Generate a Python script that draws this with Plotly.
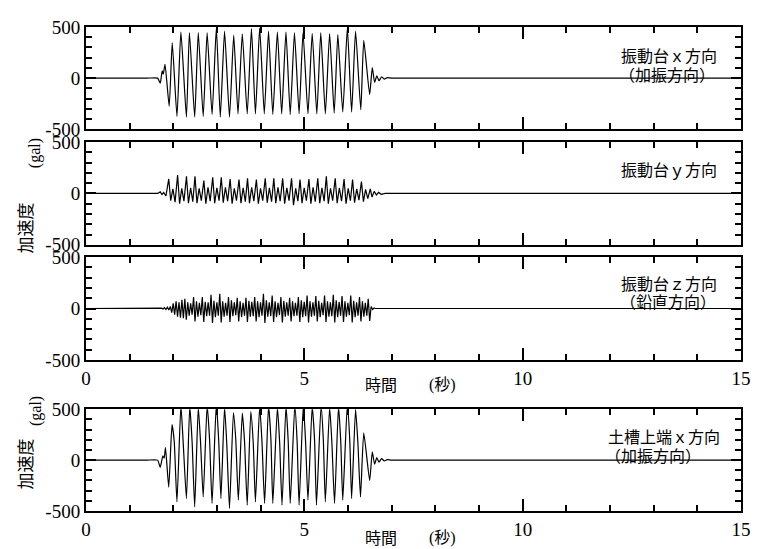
import plotly.graph_objects as go

# ---------------- data ----------------
# Panel 1: shake table, x direction (excitation direction)
t_table_x = [0, 0.5, 1.0, 1.4, 1.64, 1.70, 1.745, 1.77, 1.81, 1.905, 1.975, 2.083, 2.173, 2.300, 2.368,
             2.489, 2.571, 2.684, 2.774, 2.887, 2.985, 3.075, 3.173, 3.286, 3.383, 3.481,
             3.579, 3.692, 3.789, 3.880, 3.977, 4.083, 4.180, 4.278, 4.383, 4.481, 4.579,
             4.677, 4.774, 4.880, 4.970, 5.083, 5.180, 5.286, 5.376, 5.481, 5.579, 5.684,
             5.767, 5.880, 5.985, 6.083, 6.173, 6.293, 6.361, 6.496, 6.556, 6.610, 6.660,
             6.710, 6.770, 6.830, 6.900, 7.000, 7.5, 9.0, 11.0, 13.0, 15.0]
a_table_x = [0, 0, 0, 0, 0, -50, 70, 40, 135, -275, 345, -375, 452, -381, 446, -381, 446, -375, 446,
             -355, 491, -381, 459, -381, 420, -349, 433, -349, 485, -349, 491, -349, 459,
             -355, 452, -349, 452, -355, 446, -349, 446, -349, 439, -349, 446, -349, 436,
             -342, 426, -332, 491, -332, 459, -310, 369, -162, 103, -42, 23, -26, 13, -10,
             5, 0, 0, 0, 0, 0, 0]

# Panel 2: shake table, y direction
t_table_y = [0, 1.64, 1.70, 1.74, 1.78, 1.83,
             1.895, 1.94, 1.99, 2.04,
             2.098, 2.143, 2.193, 2.243,
             2.301, 2.346, 2.396, 2.446,
             2.496, 2.541, 2.591, 2.641,
             2.699, 2.744, 2.794, 2.844,
             2.902, 2.947, 2.997, 3.047,
             3.098, 3.143, 3.193, 3.243,
             3.301, 3.346, 3.396, 3.446,
             3.504, 3.549, 3.599, 3.649,
             3.699, 3.744, 3.794, 3.844,
             3.902, 3.947, 3.997, 4.047,
             4.105, 4.150, 4.200, 4.250,
             4.301, 4.346, 4.396, 4.446,
             4.504, 4.549, 4.599, 4.649,
             4.707, 4.752, 4.802, 4.852,
             4.902, 4.947, 4.997, 5.047,
             5.105, 5.150, 5.200, 5.250,
             5.308, 5.353, 5.403, 5.453,
             5.504, 5.549, 5.599, 5.649,
             5.707, 5.752, 5.802, 5.852,
             5.910, 5.955, 6.005, 6.055,
             6.105, 6.150, 6.200, 6.250,
             6.308, 6.353, 6.403, 6.453,
             6.511, 6.55, 6.60, 6.65, 6.70, 6.76, 6.85, 15.0]
a_table_y = [0, 0, 15, -10, 10, -25,
             141, -70, 45, -85,
             179, -100, 50, -75,
             166, -95, 55, -80,
             166, -95, 50, -70,
             125, -100, 60, -75,
             157, -95, 55, -70,
             157, -90, 60, -75,
             141, -100, 50, -70,
             135, -95, 55, -80,
             147, -95, 60, -75,
             135, -100, 50, -70,
             147, -90, 55, -80,
             147, -95, 60, -75,
             147, -100, 55, -70,
             147, -115, 50, -75,
             135, -95, 55, -70,
             141, -100, 60, -80,
             147, -95, 55, -75,
             166, -100, 50, -70,
             147, -95, 55, -75,
             141, -100, 50, -70,
             135, -90, 45, -65,
             115, -80, 40, -50,
             45, -35, 20, -15, 10, -8, 0, 0]

# Panel 3: shake table, z direction (vertical) - sampled every 1/30 s from 1.73 s
z_start = 1.73
z_step = 1.0 / 30.0
a_table_z = [3, -5, 8, -10, 12, -15, 20, -40, 50, -60, 70, -80, 60, -90, 85, -95,
             95, -110, 60, -70, 50, -60,
             111, -125, 70, -80, 55, -65,
             111, -130, 65, -75, 60, -70,
             134, -140, 75, -85, 60, -70,
             143, -135, 70, -80, 55, -70,
             111, -130, 80, -75, 60, -65,
             105, -125, 70, -85, 55, -70,
             105, -130, 75, -80, 65, -75,
             111, -125, 70, -85, 60, -70,
             143, -140, 80, -80, 60, -75,
             127, -130, 70, -85, 55, -65,
             111, -135, 75, -80, 60, -70,
             105, -125, 70, -75, 55, -70,
             111, -130, 80, -85, 65, -75,
             127, -135, 70, -80, 60, -70,
             121, -125, 75, -85, 55, -65,
             127, -130, 70, -80, 60, -75,
             134, -135, 80, -85, 65, -70,
             121, -130, 70, -80, 55, -65,
             127, -135, 75, -85, 60, -70,
             111, -125, 70, -80, 55, -70,
             95, -120, 20, -10, 5, 0]

# Panel 4: top of soil container, x direction
t_soil_x = [0, 0.5, 1.0, 1.4, 1.64, 1.70, 1.76, 1.79, 1.82, 1.895, 1.97, 2.02,
            2.083, 2.173, 2.226,
            2.300, 2.376, 2.430,
            2.489, 2.571, 2.625,
            2.684, 2.774, 2.830,
            2.887, 2.985, 3.040,
            3.090, 3.173, 3.225,
            3.286, 3.376, 3.430,
            3.489, 3.579, 3.630,
            3.692, 3.774, 3.830,
            3.880, 3.977, 4.030,
            4.090, 4.180, 4.235,
            4.278, 4.383, 4.435,
            4.489, 4.579, 4.630,
            4.677, 4.782, 4.835,
            4.880, 4.977, 5.030,
            5.083, 5.180, 5.235,
            5.278, 5.383, 5.435,
            5.481, 5.579, 5.630,
            5.692, 5.782, 5.835,
            5.880, 5.985, 6.040,
            6.083, 6.173, 6.225,
            6.286, 6.361, 6.496, 6.556, 6.61, 6.66, 6.71, 6.77, 6.83, 6.90, 7.0,
            7.5, 9.0, 11.0, 13.0, 15.0]
a_soil_x = [0, 0, 0, 0, 0, -71, 42, 20, 123, -265, 349, 187,
            -410, 540, 170,
            -378, 530, 180,
            -459, 520, 160,
            -362, 540, 200,
            -426, 560, 180,
            -378, 520, 150,
            -475, 468, 200,
            -394, 462, 190,
            -442, 478, 170,
            -410, 530, 180,
            -426, 540, 200,
            -426, 520, 170,
            -442, 530, 190,
            -426, 540, 180,
            -442, 550, 170,
            -394, 530, 190,
            -442, 540, 200,
            -410, 520, 180,
            -426, 530, 170,
            -394, 550, 200,
            -378, 500, 180,
            -362, 268, -200, 81, -40, 25, -20, 15, -8, 5, 0,
            0, 0, 0, 0, 0]

y_tick_vals = [-500, 0, 500]
y_tick_text = ["-500", "0", "500"]
x_tick_vals = [0, 5, 10, 15]

panel_labels = [["振動台ｘ方向", "（加振方向）"],
                ["振動台ｙ方向"],
                ["振動台ｚ方向", "（鉛直方向）"],
                ["土槽上端ｘ方向", "（加振方向）"]]

# ---------------- layout helpers (pixel geometry of the page) ----------------
PAGE_W, PAGE_H = 760, 549
BODY = 8                      # default body margin of the html page
W_FIG, H_FIG = PAGE_W - BODY, PAGE_H - BODY
L, R, T, B = 86, 751, 24, 514  # plot area in page pixels


def px(x):
    return (x - L) / (R - L)


def py(y):
    return (B - y) / (B - T)


fig = go.Figure()

z_times = [0.0, 1.70] + [z_start + k * z_step for k in range(len(a_table_z))] + [15.0]
z_vals = [0, 0] + a_table_z + [0]

series = [(t_table_x, a_table_x, "spline"), (t_table_y, a_table_y, "linear"),
          (z_times, z_vals, "linear"), (t_soil_x, a_soil_x, "spline")]
domains = [(24, 127.5), (140.5, 244.5), (257, 361), (411, 514)]

serif = "Liberation Serif"
cjk = "Noto Sans CJK JP"

for i, ((tt, aa, shape), (top, bot)) in enumerate(zip(series, domains)):
    n = i + 1
    xa = "x" if n == 1 else f"x{n}"
    ya = "y" if n == 1 else f"y{n}"
    line = dict(color="black", width=1.2, shape=shape)
    if shape == "spline":
        line["smoothing"] = 0.5
    fig.add_trace(go.Scatter(x=tt, y=aa, mode="lines", xaxis=xa, yaxis=ya,
                             line=line, showlegend=False, hoverinfo="skip"))
    xkey = "xaxis" if n == 1 else f"xaxis{n}"
    ykey = "yaxis" if n == 1 else f"yaxis{n}"
    fig.layout[xkey] = dict(
        domain=[0, 1], anchor=ya, range=[0, 15], tickmode="array", tickvals=x_tick_vals,
        ticks="inside", ticklen=12, tickwidth=1.5, tickcolor="black",
        minor=dict(tickmode="linear", tick0=0, dtick=1, ticks="inside", ticklen=6,
                   tickwidth=1.5, tickcolor="black", showgrid=False),
        showline=True, linecolor="black", linewidth=2, mirror="allticks",
        showgrid=False, zeroline=False, showticklabels=(n >= 3),
        tickfont=dict(family=serif, size=19, color="black"), fixedrange=True)
    fig.layout[ykey] = dict(
        domain=[py(bot), py(top)], anchor=xa, range=[-500, 500],
        tickmode="array", tickvals=y_tick_vals, ticktext=y_tick_text,
        ticks="inside", ticklen=10, tickwidth=1.5, tickcolor="black",
        minor=dict(tickmode="linear", tick0=0, dtick=100, ticks="inside", ticklen=6,
                   tickwidth=1.5, tickcolor="black", showgrid=False),
        showline=True, linecolor="black", linewidth=2, mirror="allticks",
        showgrid=False, zeroline=False,
        tickfont=dict(family=serif, size=19, color="black"), fixedrange=True)

annotations = []


def add_text(text, x, y, family, size, angle=0):
    annotations.append(dict(text=text, x=px(x), y=py(y), xref="paper", yref="paper",
                            showarrow=False, xanchor="center", yanchor="middle",
                            textangle=angle, font=dict(family=family, size=size, color="black")))


# panel labels
label_pos = [[(678, 52), (676, 72)], [(678, 168)], [(678, 283), (677, 301)],
             [(673, 438), (662, 457)]]
for lines, poss in zip(panel_labels, label_pos):
    for txt, (x, y) in zip(lines, poss):
        add_text(txt, x, y, cjk, 16)

# y-axis titles
add_text("加速度", 24, 227, cjk, 17, -90)
add_text("(gal)", 35, 152, serif, 16, -90)
add_text("加速度", 24, 466, cjk, 17, -90)
add_text("(gal)", 35, 413, serif, 16, -90)

# x-axis titles
add_text("時間", 386, 385, cjk, 16)
add_text("(秒)", 448, 386, serif + ", " + cjk, 16)
add_text("時間", 386, 540, cjk, 16)
add_text("(秒)", 448, 541, serif + ", " + cjk, 16)

fig.update_layout(
    width=W_FIG, height=H_FIG,
    margin=dict(l=L - BODY, r=PAGE_W - R, t=T - BODY, b=PAGE_H - B, pad=0),
    paper_bgcolor="white", plot_bgcolor="white",
    font=dict(family=serif, size=19, color="black"),
    annotations=annotations,
)

fig.write_html("out.html")
